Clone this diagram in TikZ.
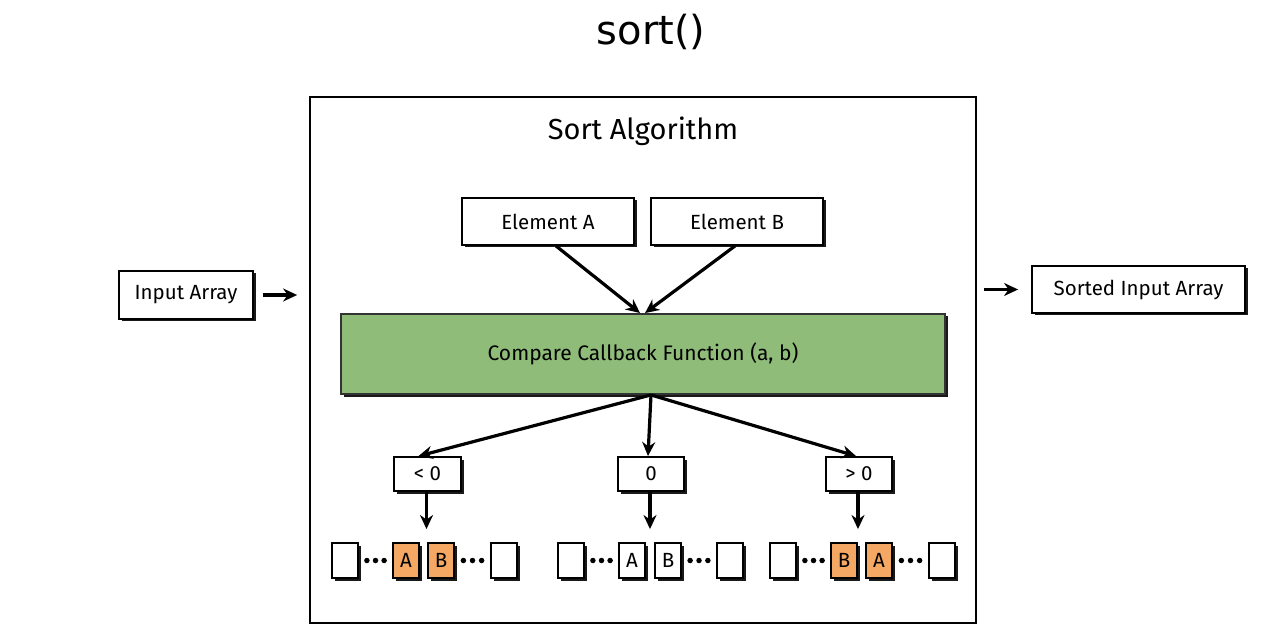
\documentclass[tikz,border=0pt]{standalone}
\usepackage{fontspec}
\setmainfont{Fira Sans}
\newfontfamily\titlefont{DejaVu Sans}
\usetikzlibrary{shadows,arrows.meta,calc}
\definecolor{cbgreen}{HTML}{8FBC78}
\definecolor{cborange}{HTML}{F5A864}
\tikzset{
  box/.style={draw=black, line width=1.9pt, fill=white, inner sep=0pt,
    drop shadow={shadow xshift=2.5pt, shadow yshift=-2.5pt, fill=black, opacity=0.9},
    font=\fontsize{20.5}{24}\selectfont},
  cell/.style={box, minimum width=26pt, minimum height=35pt},
  hot/.style={fill=cborange},
  arr/.style={line width=3.2pt, -{Stealth[length=14pt,width=13pt]}},
  dotc/.style={fill=black, circle, inner sep=0pt, minimum size=5.5pt}
}
\newcommand{\dotrow}[2]{%
  \node[dotc] at ($(#1.east)!0.24!(#2.west)$) {};
  \node[dotc] at ($(#1.east)!0.5!(#2.west)$) {};
  \node[dotc] at ($(#1.east)!0.76!(#2.west)$) {};}
\begin{document}
\begin{tikzpicture}[x=1pt,y=-1pt]
\useasboundingbox (0,0) rectangle (1269,636);
\node[font=\titlefont\fontsize{40}{46}\selectfont] (title) at (651,32) {sort()};
\node[draw=black, line width=1.8pt, minimum width=666pt, minimum height=526pt] (outer) at (643,360) {};
\node[font=\fontsize{29}{34}\selectfont] (alg) at (643,131) {Sort Algorithm};
\node[box, minimum width=172pt, minimum height=47pt] (ea) at (548,221.5) {Element A};
\node[box, minimum width=172pt, minimum height=47pt] (eb) at (737,221.5) {Element B};
\node[box, fill=cbgreen, draw=black!80, minimum width=604pt, minimum height=80pt, font=\fontsize{21}{25}\selectfont] (cmp) at (643,354) {Compare Callback Function (a, b)};
\node[box, minimum width=67pt, minimum height=34pt] (lt) at (427.5,474) {< 0};
\node[box, minimum width=66pt, minimum height=34pt] (eq) at (651,474) {0};
\node[box, minimum width=66pt, minimum height=34pt] (gt) at (859,474) {> 0};
\node[box, minimum width=134pt, minimum height=48pt] (in) at (186,295) {Input Array};
\node[box, minimum width=213pt, minimum height=47pt] (out) at (1138.5,289.5) {Sorted Input Array};
% cells
\node[cell] (a1) at (345,560.5) {};
\node[cell,hot] (a2) at (406,560.5) {A};
\node[cell,hot] (a3) at (441,560.5) {B};
\node[cell] (a4) at (504,560.5) {};
\node[cell] (b1) at (571,560.5) {};
\node[cell] (b2) at (632,560.5) {A};
\node[cell] (b3) at (668,560.5) {B};
\node[cell] (b4) at (730,560.5) {};
\node[cell] (c1) at (783,560.5) {};
\node[cell,hot] (c2) at (844,560.5) {B};
\node[cell,hot] (c3) at (879,560.5) {A};
\node[cell] (c4) at (942,560.5) {};
\dotrow{a1}{a2}\dotrow{a3}{a4}
\dotrow{b1}{b2}\dotrow{b3}{b4}
\dotrow{c1}{c2}\dotrow{c3}{c4}
% arrows
\draw[arr] ([xshift=8pt]ea.south) -- ([xshift=-3pt]cmp.north);
\draw[arr] ([xshift=-2pt]eb.south) -- ([xshift=2pt]cmp.north);
\draw[arr] ([xshift=8pt]cmp.south) -- ([xshift=-9pt]lt.north);
\draw[arr] ([xshift=8pt]cmp.south) -- ([xshift=-3pt]eq.north);
\draw[arr] ([xshift=8pt]cmp.south) -- ([xshift=-3pt]gt.north);
\draw[arr] ([xshift=-1pt]lt.south) -- ([xshift=-1pt,yshift=13pt]lt.south |- a2.north);
\draw[arr] ([xshift=-1pt]eq.south) -- ([xshift=-1pt,yshift=13pt]eq.south |- b2.north);
\draw[arr] ([xshift=-1pt]gt.south) -- ([xshift=-1pt,yshift=13pt]gt.south |- c2.north);
\draw[arr] ([xshift=9pt]in.east) -- ([xshift=-12pt]outer.west |- in.east);
\draw[arr] ([xshift=7pt]outer.east |- out.west) -- ([xshift=-13pt]out.west);
\end{tikzpicture}
\end{document}
